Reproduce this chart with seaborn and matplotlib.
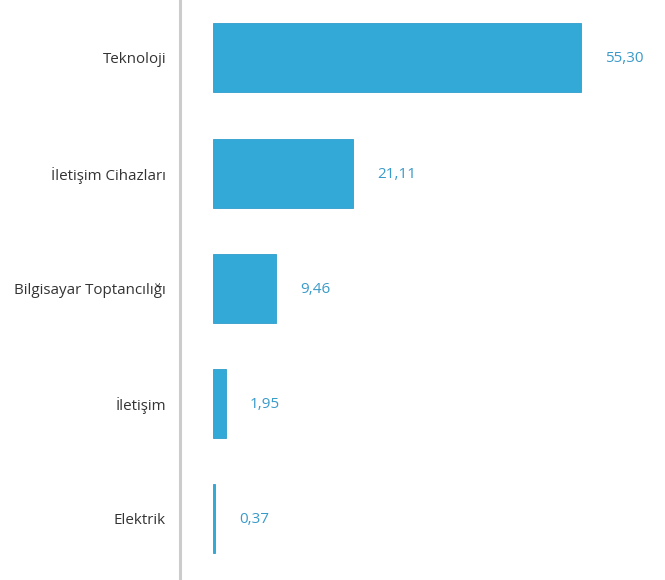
import matplotlib
matplotlib.use("Agg")
import matplotlib.pyplot as plt
import seaborn as sns
import pandas as pd

categories = ["Teknoloji", "İletişim Cihazları", "Bilgisayar Toptancılığı", "İletişim", "Elektrik"]
values = [55.30, 21.11, 9.46, 1.95, 0.37]
value_labels = ["55,30", "21,11", "9,46", "1,95", "0,37"]

sns.set_theme(style="white")
plt.rcParams['font.family'] = ['Open Sans', 'DejaVu Sans']

df = pd.DataFrame({"cat": categories, "val": values})

fig = plt.figure(figsize=(6.65, 5.80), dpi=100)
ax = fig.add_axes([180/665, 2/580, 485/665, 578/580])

bar_color = "#33a9d7"
sns.barplot(data=df, x="val", y="cat", orient="h", color=bar_color, width=0.6,
            saturation=1, ax=ax, edgecolor="#2f9dcc", linewidth=0.6)

px_per_unit = 6.65
x0 = -33 / px_per_unit
ax.set_xlim(x0, x0 + 485 / px_per_unit)
ax.set_ylim(4.52, -0.504)

for i, (v, lab) in enumerate(zip(values, value_labels)):
    ax.annotate(lab, xy=(v, i), xytext=(24, -1), textcoords="offset pixels",
                ha="left", va="center", fontsize=11, color="#3a9ac9")

ax.set_xlabel("")
ax.set_ylabel("")
ax.set_xticks([])
ax.tick_params(axis="y", length=0, pad=10, labelsize=10.9, labelcolor="#333333")
for s in ["top", "right", "bottom"]:
    ax.spines[s].set_visible(False)
ax.spines["left"].set_color("#cccccc")
ax.spines["left"].set_linewidth(2.2)

fig.savefig("out.png", dpi=100)
